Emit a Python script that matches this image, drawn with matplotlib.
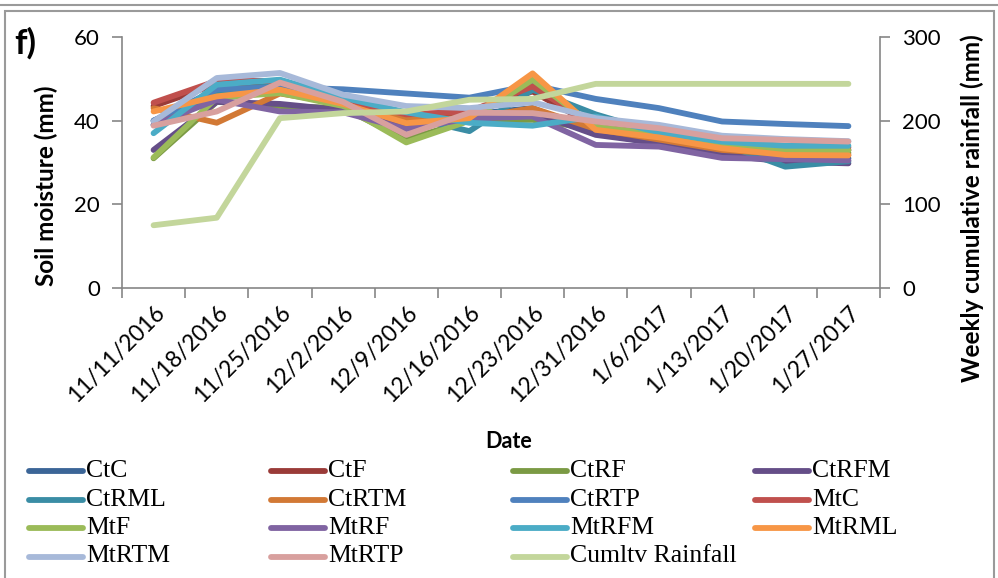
import matplotlib.pyplot as plt
from matplotlib.lines import Line2D
from matplotlib.patches import Rectangle
import numpy as np

plt.rcParams["font.family"] = "Lato"

dates = ["11/11/2016", "11/18/2016", "11/25/2016", "12/2/2016", "12/9/2016",
         "12/16/2016", "12/23/2016", "12/31/2016", "1/6/2017", "1/13/2017",
         "1/20/2017", "1/27/2017"]

# soil moisture per treatment (mm)
ctc = [40.0, 46.0, 48.0, 44.5, 40.0, 41.5, 43.0, 37.0, 34.5, 32.0, 31.5, 31.0]
ctf = [43.5, 48.8, 49.0, 44.0, 40.0, 42.0, 47.0, 38.5, 36.0, 34.0, 33.2, 33.0]
ctrf = [31.0, 44.5, 43.5, 43.0, 35.5, 40.0, 40.2, 38.0, 35.5, 33.5, 32.5, 32.3]
ctrfm = [33.0, 44.5, 44.0, 42.5, 38.5, 41.0, 42.0, 36.6, 34.6, 31.8, 30.2, 29.8]
ctrml = [39.0, 47.0, 48.5, 44.5, 41.0, 37.5, 47.4, 41.5, 37.0, 34.5, 29.0, 30.3]
ctrtm = [43.0, 39.5, 46.5, 44.0, 40.5, 40.5, 43.0, 38.0, 35.5, 33.0, 32.0, 31.8]
ctrtp = [40.0, 47.5, 48.0, 47.5, 46.5, 45.5, 48.5, 45.2, 43.0, 39.8, 39.2, 38.7]
mtc = [44.3, 49.5, 49.5, 45.0, 41.5, 42.2, 48.2, 38.6, 36.8, 34.5, 34.0, 33.6]
mtf = [31.2, 45.5, 46.6, 43.5, 34.8, 40.0, 49.8, 38.5, 36.8, 34.2, 33.0, 32.9]
mtrf = [39.0, 45.0, 42.2, 42.0, 38.0, 40.5, 41.0, 34.2, 33.8, 31.1, 30.8, 30.5]
mtrfm = [37.0, 48.6, 49.8, 45.5, 42.0, 39.5, 38.8, 41.0, 37.2, 35.0, 34.0, 34.0]
mtrml = [42.2, 45.8, 47.4, 44.0, 39.4, 40.6, 51.3, 37.8, 36.0, 33.4, 31.8, 31.7]
mtrtm = [39.8, 50.2, 51.4, 46.2, 43.5, 43.0, 44.4, 40.6, 39.0, 36.4, 35.6, 35.1]
mtrtp = [38.8, 42.2, 49.1, 44.5, 36.6, 41.9, 41.8, 39.8, 38.2, 35.8, 35.4, 35.0]

# weekly cumulative rainfall (mm)
rainfall = [75, 84, 203, 209, 211, 225, 226, 244, 244, 244, 244, 244]

names = ["CtC", "CtF", "CtRF", "CtRFM", "CtRML", "CtRTM", "CtRTP",
         "MtC", "MtF", "MtRF", "MtRFM", "MtRML", "MtRTM", "MtRTP"]
series = [ctc, ctf, ctrf, ctrfm, ctrml, ctrtm, ctrtp,
          mtc, mtf, mtrf, mtrfm, mtrml, mtrtm, mtrtp]
colors = ["#3b6597", "#9a3b38", "#7b9a44", "#654e88", "#3a8da5", "#d27935",
          "#4f81bd", "#c0504d", "#9bbb59", "#8064a2", "#4bacc6", "#f79646",
          "#a7b9d9", "#d8a09e"]
rain_color = "#c3d69b"
grey = "#868686"

W, H = 998, 578
fig = plt.figure(figsize=(W / 100, H / 100), dpi=100)

# outer frame
fig.add_artist(Line2D([0, 1], [1 - 5 / H, 1 - 5 / H], color="#9a9a9a", lw=1.5))
fig.add_artist(Rectangle((5 / W, -0.01), 989 / W, 1 - 11 / H + 0.01,
                         fill=False, ec="#9a9a9a", lw=1.5))

ax = fig.add_axes([122 / W, 1 - 288 / H, 758 / W, 251 / H])
x = np.arange(len(dates))
lw = 4.2
for vals, c in zip(series, colors):
    ax.plot(x, vals, color=c, lw=lw, solid_capstyle="round", solid_joinstyle="round")

ax.set_xlim(-0.5, len(dates) - 0.5)
ax.set_ylim(0, 60)
ax.set_yticks([0, 20, 40, 60])
ax.set_xticks(np.arange(len(dates) + 1) - 0.5)
ax.set_xticklabels([])
ax.set_xticks(x, minor=True)
ax.set_xticklabels(dates, minor=True, rotation=45, ha="right",
                   rotation_mode="anchor", fontsize=16.5)
ax.tick_params(axis="x", which="minor", length=0, pad=10)
ax.tick_params(axis="x", which="major", length=7, width=1.2, color=grey)
ax.tick_params(axis="y", length=7, width=1.2, color=grey, labelsize=16, pad=9)
for side in ["top", "right"]:
    ax.spines[side].set_visible(False)
for side in ["left", "bottom"]:
    ax.spines[side].set_color(grey)
    ax.spines[side].set_linewidth(1.2)

ax2 = ax.twinx()
ax2.plot(x, rainfall, color=rain_color, lw=lw, solid_capstyle="round",
         solid_joinstyle="round")
ax2.set_ylim(0, 300)
ax2.set_yticks([0, 100, 200, 300])
ax2.tick_params(axis="y", length=7, width=1.2, color=grey, labelsize=16, pad=9)
for side in ["top", "left", "bottom"]:
    ax2.spines[side].set_visible(False)
ax2.spines["right"].set_color(grey)
ax2.spines["right"].set_linewidth(1.2)

fig.text(46 / W, 1 - 186 / H, "Soil moisture (mm)", rotation=90, ha="center",
         va="center", fontsize=17.5, fontweight="bold")
fig.text(972 / W, 1 - 208 / H, "Weekly cumulative rainfall (mm)", rotation=90,
         ha="center", va="center", fontsize=17.5, fontweight="bold")
fig.text(509 / W, 1 - 442 / H, "Date", ha="center", va="center",
         fontsize=15.5, fontweight="bold")
fig.text(14 / W, 1 - 43 / H, "f)", ha="left", va="center", fontsize=25,
         fontweight="bold")

# legend, four entries per row
labels = names + ["Cumltv Rainfall"]
leg_colors = colors + [rain_color]
for i, (lab, c) in enumerate(zip(labels, leg_colors)):
    row, col = divmod(i, 4)
    x0 = 29 + col * 242
    y0 = 1 - (471 + row * 28.5) / H
    fig.add_artist(Line2D([x0 / W, (x0 + 54) / W], [y0, y0], color=c, lw=4.2,
                          solid_capstyle="round"))
    fig.text((x0 + 57) / W, y0, lab, ha="left", va="center", fontsize=18.5,
             family="Liberation Serif")

fig.savefig("out.png", dpi=100)
